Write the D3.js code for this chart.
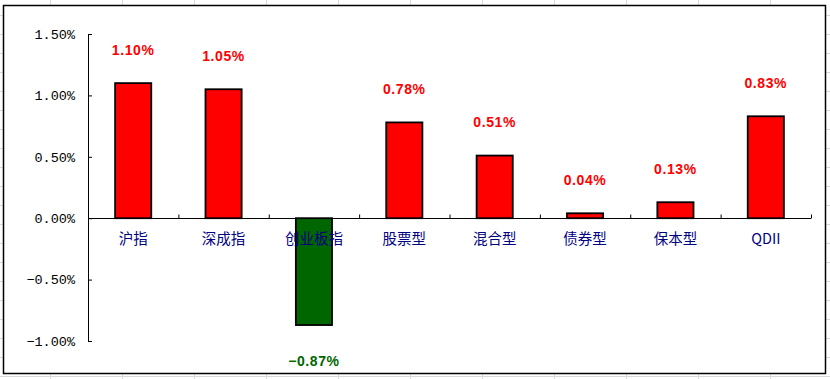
<!DOCTYPE html>
<html>
<head>
<meta charset="utf-8">
<script src="https://cdn.jsdelivr.net/npm/d3@7"></script>
<style>
  html, body { margin: 0; padding: 0; background: #fff; }
  svg { display: block; }
</style>
</head>
<body>
<div id="chart"></div>
<script>
// fund / index daily change, in percent
const categories = ["沪指", "深成指", "创业板指", "股票型", "混合型", "债券型", "保本型", "QDII"];
const changes = [1.10, 1.05, -0.87, 0.78, 0.51, 0.04, 0.13, 0.83];
const yTicks = [-1.0, -0.5, 0, 0.5, 1.0, 1.5];

const W = 830, H = 379;
const plot = { left: 88, right: 811, top: 34, bottom: 341 };

const svg = d3.select("#chart")
  .append("svg")
  .attr("width", W)
  .attr("height", H)
  .attr("viewBox", `0 0 ${W} ${H}`);

// spreadsheet cells behind the chart object
const sheet = svg.append("g").attr("stroke", "#d9d9d9").attr("stroke-width", 1);
sheet.selectAll("line.col")
  .data(d3.range(50, W, 72))
  .enter().append("line")
  .attr("x1", d => d + 0.5).attr("x2", d => d + 0.5)
  .attr("y1", 0).attr("y2", H);
sheet.selectAll("line.row")
  .data(d3.range(-4, H, 19))
  .enter().append("line")
  .attr("x1", 0).attr("x2", W)
  .attr("y1", d => d + 0.5).attr("y2", d => d + 0.5);

// chart area
svg.append("rect")
  .attr("x", 3.5).attr("y", 5.5)
  .attr("width", 822).attr("height", 368)
  .attr("fill", "#fff")
  .attr("stroke", "#000")
  .attr("stroke-width", 1.5);

const x = d3.scaleBand()
  .domain(categories)
  .range([plot.left, plot.right])
  .padding(0);

const y = d3.scaleLinear()
  .domain([-1, 1.5])
  .range([plot.bottom, plot.top]);

const fmt = d => d3.format(".2f")(d) + "%";

// y axis
const yAxis = svg.append("g")
  .attr("transform", `translate(${plot.left},0)`)
  .call(d3.axisLeft(y).tickValues(yTicks).tickFormat(fmt).tickSizeInner(-4).tickSizeOuter(0).tickPadding(13));
yAxis.select(".domain").attr("stroke", "#000").attr("stroke-width", 1);
yAxis.selectAll(".tick line").attr("stroke", "#000");
yAxis.selectAll(".tick text")
  .attr("fill", "#000")
  .style("font-family", "'Liberation Mono', 'DejaVu Sans Mono', monospace")
  .style("font-size", "13.5px");

// bars
const bw = x.bandwidth() * 0.4;
svg.append("g")
  .selectAll("rect")
  .data(changes)
  .enter().append("rect")
  .attr("x", (d, i) => x(categories[i]) + (x.bandwidth() - bw) / 2)
  .attr("y", d => y(Math.max(0, d)))
  .attr("width", bw)
  .attr("height", d => Math.abs(y(d) - y(0)))
  .attr("fill", d => d < 0 ? "#006600" : "#ff0000")
  .attr("stroke", "#000")
  .attr("stroke-width", 1.8);

// x axis at zero
const y0 = Math.round(y(0)) + 0.5;
svg.append("line")
  .attr("x1", plot.left).attr("x2", plot.right)
  .attr("y1", y0).attr("y2", y0)
  .attr("stroke", "#000");
svg.append("g")
  .selectAll("line")
  .data(categories)
  .enter().append("line")
  .attr("x1", d => x(d) + x.bandwidth() + 0.5)
  .attr("x2", d => x(d) + x.bandwidth() + 0.5)
  .attr("y1", y0).attr("y2", y0 - 4)
  .attr("stroke", "#000");

// category names
svg.append("g")
  .selectAll("text")
  .data(categories)
  .enter().append("text")
  .attr("x", d => x(d) + x.bandwidth() / 2)
  .attr("y", y(0) + 21)
  .attr("dy", "0.35em")
  .attr("text-anchor", "middle")
  .attr("fill", "#000080")
  .style("font-family", "'Noto Sans CJK SC', sans-serif")
  .style("font-size", "14.5px")
  .text(d => d);

// value labels
svg.append("g")
  .selectAll("text")
  .data(changes)
  .enter().append("text")
  .attr("x", (d, i) => x(categories[i]) + x.bandwidth() / 2)
  .attr("y", d => d < 0 ? y(d) + 36 : y(d) - 33)
  .attr("dy", "0.35em")
  .attr("text-anchor", "middle")
  .attr("fill", d => d < 0 ? "#006600" : "#ff0000")
  .style("font-family", "'Liberation Sans', Arial, sans-serif")
  .style("font-weight", "bold")
  .style("font-size", "14px")
  .style("letter-spacing", "0.6px")
  .text(d => fmt(d));
</script>
</body>
</html>
